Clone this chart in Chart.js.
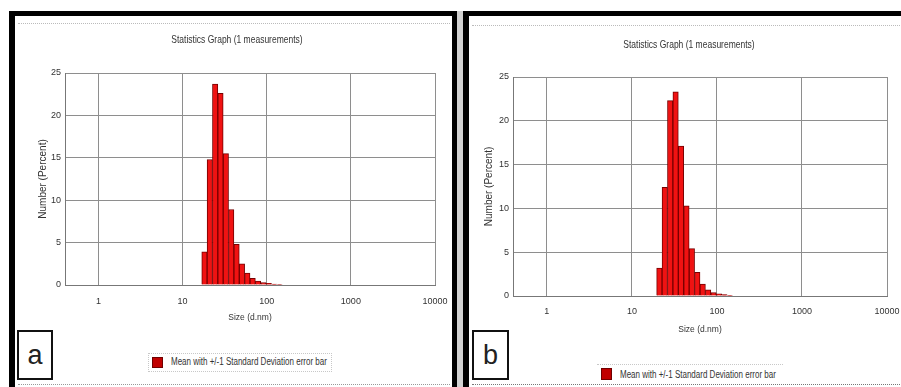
<!DOCTYPE html>
<html><head><meta charset="utf-8">
<script src="https://cdn.jsdelivr.net/npm/chart.js@4.4.1/dist/chart.umd.min.js"></script>
<style>
body{margin:0;background:#fff;width:901px;height:387px;overflow:hidden;position:relative;font-family:'Liberation Sans',Arial,sans-serif;color:#333;}
.abs{position:absolute;box-sizing:border-box;}
.ttl{font-size:8.5px;white-space:nowrap;transform:translateX(-50%) scaleY(1.25);}
.leg{font-size:8px;white-space:nowrap;transform:scaleY(1.25);transform-origin:left center;}
.sq{background:#c00000;border:1px solid #700000;}
.lbl{border:2px solid #111;background:#fff;font-size:27px;text-align:center;color:#222;}
</style></head><body>
<div class="abs" style="left:0;top:0;width:901px;height:387px;background:#fff"></div>
<div class="abs" style="left:457px;top:11px;width:6px;height:376px;background:#d2d2d2"></div>
<div class="abs" style="left:9px;top:11px;width:448px;height:400px;border-left:6px solid #000;border-right:5px solid #000;border-top:5px solid #000"></div>
<div class="abs" style="left:463px;top:11px;width:450px;height:400px;border-left:6px solid #000;border-top:5px solid #000"></div>
<div class="abs" style="left:18px;top:23px;width:432px;height:0;border-top:1px dotted #bbb"></div>
<div class="abs" style="left:18px;top:384px;width:432px;height:0;border-top:1px dotted #999"></div>
<div class="abs" style="left:472px;top:25px;width:428px;height:0;border-top:1px dotted #bbb"></div>
<div class="abs" style="left:472px;top:384px;width:428px;height:0;border-top:1px dotted #777"></div>
<canvas id="chartA" class="abs" width="444" height="320" style="left:16px;top:17px"></canvas>
<canvas id="chartB" class="abs" width="442" height="330" style="left:469px;top:17px"></canvas>
<div class="abs ttl" id="titleA" style="left:237px;top:34px"></div>
<div class="abs ttl" id="titleB" style="left:689px;top:39px"></div>
<div class="abs" style="left:148px;top:353px;width:184px;height:19px;border:1px dotted #c8c8c8"></div>
<div class="abs sq" style="left:152px;top:357px;width:11px;height:11px"></div>
<div class="abs leg" id="legA" style="left:171px;top:357px"></div>
<div class="abs" style="left:597px;top:364px;width:186px;height:20px;border-top:1px dotted #c8c8c8"></div>
<div class="abs sq" style="left:601px;top:368px;width:11px;height:12px"></div>
<div class="abs leg" id="legB" style="left:620px;top:370px"></div>
<div class="abs lbl" style="left:17px;top:330px;width:36px;height:50px;line-height:46px">a</div>
<div class="abs lbl" style="left:472px;top:330px;width:37px;height:50px;line-height:46px">b</div>
<script>
const sizesA = [18.17, 21.04, 24.36, 28.21, 32.67, 37.84, 43.82, 50.75, 58.77, 68.06, 78.82, 91.28, 105.7, 122.4, 141.8];
const numberA = [3.9, 14.8, 23.7, 22.6, 15.5, 8.9, 4.8, 2.5, 1.4, 0.8, 0.45, 0.3, 0.2, 0.1, 0.05];
const sizesB = [21.04, 24.36, 28.21, 32.67, 37.84, 43.82, 50.75, 58.77, 68.06, 78.82, 91.28, 105.7, 122.4, 141.8];
const numberB = [3.2, 12.4, 22.3, 23.3, 17.1, 10.3, 5.4, 2.7, 1.35, 0.7, 0.4, 0.25, 0.15, 0.08];
const sizeTicks = [1, 10, 100, 1000, 10000];
const numberTicks = [0, 5, 10, 15, 20, 25];
const sizeRange = [0.4, 10000];
const numberRange = [0, 25];
const titleText = 'Statistics Graph (1 measurements)';
const xTitle = 'Size (d.nm)';
const yTitle = 'Number (Percent)';
const legendA = 'Mean with +/-1 Standard Deviation error bar';
const legendB = 'Mean with +/-1 Standard Deviation error bar';

document.getElementById('titleA').textContent = titleText;
document.getElementById('titleB').textContent = titleText;
document.getElementById('legA').textContent = legendA;
document.getElementById('legB').textContent = legendB;

const FAM = "'Liberation Sans', Arial, sans-serif";

function build(id, sizes, values, label, L) {
  new Chart(document.getElementById(id), {
    type: 'bar',
    data: { datasets: [{
      label: label,
      data: sizes.map((s, i) => ({ x: s, y: values[i] })),
      backgroundColor: '#f01212',
      borderColor: '#760000',
      borderWidth: 1,
      borderSkipped: 'bottom',
      barPercentage: 1,
      categoryPercentage: 1
    }]},
    options: {
      responsive: false, animation: false, devicePixelRatio: 1,
      layout: { padding: { top: L.top, right: L.right, left: 0, bottom: 0 } },
      plugins: { legend: { display: false }, title: { display: false }, tooltip: { enabled: false } },
      scales: {
        x: {
          type: 'logarithmic', min: sizeRange[0], max: sizeRange[1], offset: false,
          afterBuildTicks: s => { s.ticks = sizeTicks.map(v => ({ value: v })); },
          afterFit: s => { s.height = L.xh; },
          ticks: { callback: v => String(v), padding: L.xtp, color: '#333', font: { family: FAM, size: 9 }, maxRotation: 0, autoSkip: false },
          grid: { color: '#8e8e8e', drawTicks: false, offset: false },
          border: { color: '#777' },
          title: { display: true, text: xTitle, color: '#333', font: { family: FAM, size: 8.5 }, padding: { top: 0, bottom: L.xtb } }
        },
        y: {
          type: 'linear', min: numberRange[0], max: numberRange[1],
          afterBuildTicks: s => { s.ticks = numberTicks.map(v => ({ value: v })); },
          afterFit: s => { s.width = L.yw; },
          ticks: { padding: L.ytp, color: '#333', font: { family: FAM, size: 9 } },
          grid: { color: '#8e8e8e', drawTicks: false },
          border: { color: '#777' },
          title: { display: true, text: yTitle, color: '#333', font: { family: FAM, size: 10 }, padding: { top: L.ytt, bottom: 0 } }
        }
      }
    }
  });
}

build('chartA', sizesA, numberA, legendA, { top: 56, right: 25, xh: 52, xtp: 11.5, xtb: 14, yw: 49, ytp: 4, ytt: 21 });
build('chartB', sizesB, numberB, legendB, { top: 60, right: 24, xh: 51, xtp: 10.6, xtb: 12, yw: 44, ytp: 4, ytt: 14.3 });
</script>
</body></html>
